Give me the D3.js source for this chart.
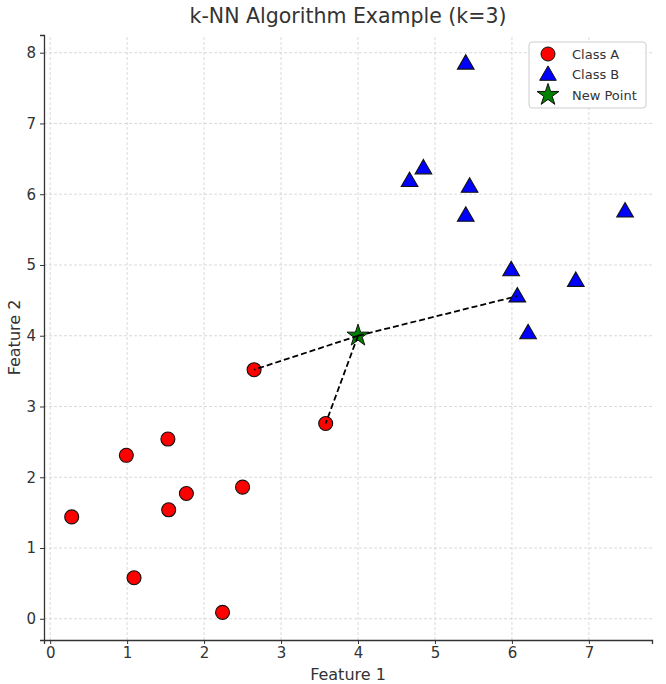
<!DOCTYPE html>
<html>
  <head>
    <meta charset="utf-8">
    <title>k-NN Example</title>
    <script src="https://d3js.org/d3.v7.min.js"></script>
    <style>
      body { margin: 0; background: #fff; }
      text { font-family: "DejaVu Sans", sans-serif; fill: #333; }
    </style>
  </head>
  <body>
    <div id="chart"></div>
    <script>
      // data
      var classAX = [0.28, 0.99, 1.53, 1.77, 1.54, 2.50, 1.09, 2.24, 2.65, 3.58];
      var classAY = [1.44, 2.31, 2.54, 1.77, 1.54, 1.86, 0.58, 0.09, 3.52, 2.76];
      var classBX = [5.40, 4.85, 4.67, 5.45, 5.40, 7.47, 5.99, 6.83, 6.07, 6.21];
      var classBY = [7.85, 6.37, 6.19, 6.11, 5.70, 5.76, 4.93, 4.78, 4.56, 4.04];
      var newPoint = [4.0, 4.0];
      // indices of the 3 nearest neighbours: [class, index]
      var neighbours = [["A", 8], ["A", 9], ["B", 8]];
      var xTicks = [0, 1, 2, 3, 4, 5, 6, 7];
      var yTicks = [0, 1, 2, 3, 4, 5, 6, 7, 8];
      var legendLabels = ["Class A", "Class B", "New Point"];

      var W = 666, H = 684;
      var margin = {top: 35, right: 14, bottom: 44, left: 44};

      var svg = d3.select("#chart")
        .append("svg")
        .attr("width", W)
        .attr("height", H);

      var x = d3.scaleLinear().domain([-0.08, 7.82]).range([margin.left, W - margin.right]);
      var y = d3.scaleLinear().domain([-0.3, 8.25]).range([H - margin.bottom, margin.top]);

      // grid
      var grid = svg.append("g");
      grid.selectAll(".gx").data(xTicks).enter().append("line")
        .attr("x1", d => x(d)).attr("x2", d => x(d))
        .attr("y1", y.range()[0]).attr("y2", y.range()[1])
        .attr("stroke", "#d0d0d0").attr("stroke-width", 0.8).attr("stroke-dasharray", "3,2");
      grid.selectAll(".gy").data(yTicks).enter().append("line")
        .attr("y1", d => y(d)).attr("y2", d => y(d))
        .attr("x1", x.range()[0]).attr("x2", x.range()[1])
        .attr("stroke", "#d0d0d0").attr("stroke-width", 0.8).attr("stroke-dasharray", "3,2");

      // axes
      var xAxis = svg.append("g")
        .attr("transform", "translate(0," + (H - margin.bottom) + ")")
        .call(d3.axisBottom(x).tickValues(xTicks).tickSize(4).tickPadding(3).tickFormat(d3.format("d")));
      var yAxis = svg.append("g")
        .attr("transform", "translate(" + margin.left + ",0)")
        .call(d3.axisLeft(y).tickValues(yTicks).tickSize(4).tickPadding(4).tickFormat(d3.format("d")));
      [xAxis, yAxis].forEach(function(a) {
        a.select(".domain").attr("stroke", "#333").attr("stroke-width", 1.3);
        a.selectAll(".tick line").attr("stroke", "#333");
        a.selectAll(".tick text").style("font-size", "15px").attr("fill", "#333");
      });

      // labels
      svg.append("text").attr("x", (x.range()[0] + x.range()[1]) / 2).attr("y", 23)
        .attr("text-anchor", "middle").style("font-size", "20.5px").text("k-NN Algorithm Example (k=3)");
      svg.append("text").attr("x", (x.range()[0] + x.range()[1]) / 2).attr("y", 680)
        .attr("text-anchor", "middle").style("font-size", "16px").text("Feature 1");
      svg.append("text")
        .attr("transform", "translate(20," + ((y.range()[0] + y.range()[1]) / 2) + ") rotate(-90)")
        .attr("text-anchor", "middle").style("font-size", "16px").text("Feature 2");

      var triangle = d3.symbol().type(d3.symbolTriangle).size(120);
      var star = d3.symbol().type(d3.symbolStar).size(150);

      // class A
      svg.append("g").selectAll("circle").data(classAX).enter().append("circle")
        .attr("cx", d => x(d)).attr("cy", (d, i) => y(classAY[i])).attr("r", 7)
        .attr("fill", "red").attr("stroke", "#111").attr("stroke-width", 1.1);

      // class B
      svg.append("g").selectAll("path").data(classBX).enter().append("path")
        .attr("d", triangle)
        .attr("transform", (d, i) => "translate(" + x(d) + "," + (y(classBY[i]) + 1) + ")")
        .attr("fill", "blue").attr("stroke", "#111").attr("stroke-width", 1.1);

      // new point
      svg.append("path").attr("d", star)
        .attr("transform", "translate(" + x(newPoint[0]) + "," + y(newPoint[1]) + ")")
        .attr("fill", "green").attr("stroke", "#111").attr("stroke-width", 1);

      // neighbour lines
      svg.append("g").selectAll("line").data(neighbours).enter().append("line")
        .attr("x1", x(newPoint[0])).attr("y1", y(newPoint[1]))
        .attr("x2", d => x(d[0] == "A" ? classAX[d[1]] : classBX[d[1]]))
        .attr("y2", d => y(d[0] == "A" ? classAY[d[1]] : classBY[d[1]]))
        .attr("stroke", "black").attr("stroke-width", 1.8).attr("stroke-dasharray", "6,3");

      // legend
      var lg = svg.append("g").attr("transform", "translate(529,42)");
      lg.append("rect").attr("width", 117).attr("height", 66).attr("rx", 3)
        .attr("fill", "white").attr("fill-opacity", 0.85).attr("stroke", "#ccc");
      var rows = lg.selectAll(".row").data(legendLabels).enter().append("g")
        .attr("transform", (d, i) => "translate(19," + (12 + i * 20.5) + ")");
      rows.each(function(d, i) {
        var g = d3.select(this);
        if (i == 0) g.append("circle").attr("r", 7).attr("fill", "red").attr("stroke", "#111");
        if (i == 1) g.append("path").attr("d", triangle).attr("transform", "translate(0,1)").attr("fill", "blue").attr("stroke", "#111");
        if (i == 2) g.append("path").attr("d", star).attr("fill", "green").attr("stroke", "#111");
      });
      rows.append("text").attr("x", 24).attr("y", 4.5).style("font-size", "13px").text(d => d);
    </script>
  </body>
</html>
